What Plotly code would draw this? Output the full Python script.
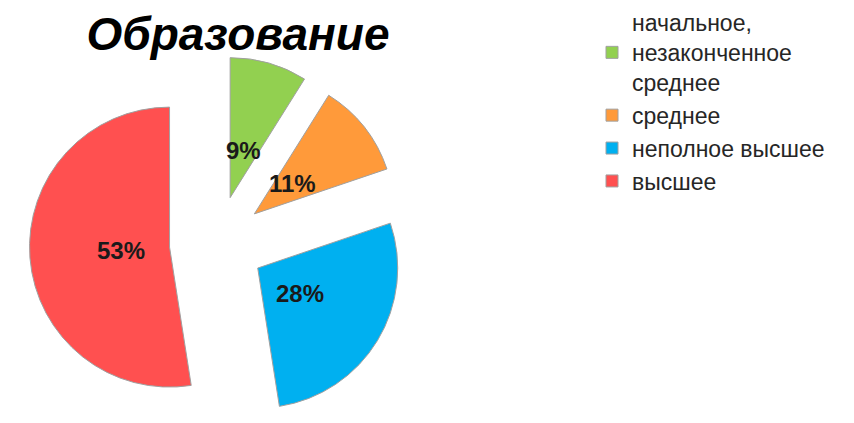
import math
import plotly.graph_objects as go

categories = ["начальное,<br>незаконченное<br>среднее", "среднее", "неполное высшее", "высшее"]
values = [9, 11, 28, 53]
colors = ["#92D050", "#FF9A3A", "#00B0F0", "#FF5050"]
title_text = "Образование"

pull = 0.34
W, H = 854, 423
r = 140                    # pie radius in pixels
half = r * (1 + pull)      # half size of the pie box
cx, cy = 209, H - half     # pie centre in figure pixels
label_frac = 0.35          # label distance from each slice apex, in radii

fig = go.Figure()
fig.add_trace(go.Pie(
    labels=categories,
    values=values,
    sort=False,
    direction="clockwise",
    rotation=0,
    pull=[pull] * len(values),
    marker=dict(colors=colors, line=dict(color="#a0a0a0", width=1)),
    textinfo="none",
    hoverinfo="skip",
    domain=dict(x=[(cx - half) / W, (cx + half) / W],
                y=[(H - cy - half) / H, (H - cy + half) / H]),
))

# percentage labels, placed along each slice's middle angle
total = sum(values)
acc = 0
annotations = []
for v in values:
    mid = (acc + v / 2) / total * 2 * math.pi
    acc += v
    dist = pull * r + label_frac * r
    px = cx + dist * math.sin(mid)
    py = cy - dist * math.cos(mid)
    annotations.append(dict(
        x=px / W, y=1 - py / H, xref="paper", yref="paper",
        text="<b>%d%%</b>" % v, showarrow=False,
        font=dict(family="Liberation Sans", size=24, color="#1a1a1a"),
        xanchor="center", yanchor="middle",
    ))

fig.update_layout(
    width=W, height=H,
    margin=dict(l=0, r=0, t=0, b=0, autoexpand=False),
    paper_bgcolor="white",
    plot_bgcolor="white",
    annotations=annotations,
    title=dict(
        text="<b><i>" + title_text + "</i></b>",
        font=dict(family="Liberation Sans", size=46, color="black"),
        x=230 / W, xanchor="center",
        y=1 - 10 / H, yanchor="top", yref="container",
        pad=dict(t=0),
    ),
    legend=dict(
        x=584 / W, xanchor="left",
        y=1 + 7 / H, yanchor="top",
        font=dict(family="Liberation Sans", size=23, color="#262626"),
        bgcolor="rgba(0,0,0,0)",
    ),
    showlegend=True,
)

fig.write_html("out.html")
